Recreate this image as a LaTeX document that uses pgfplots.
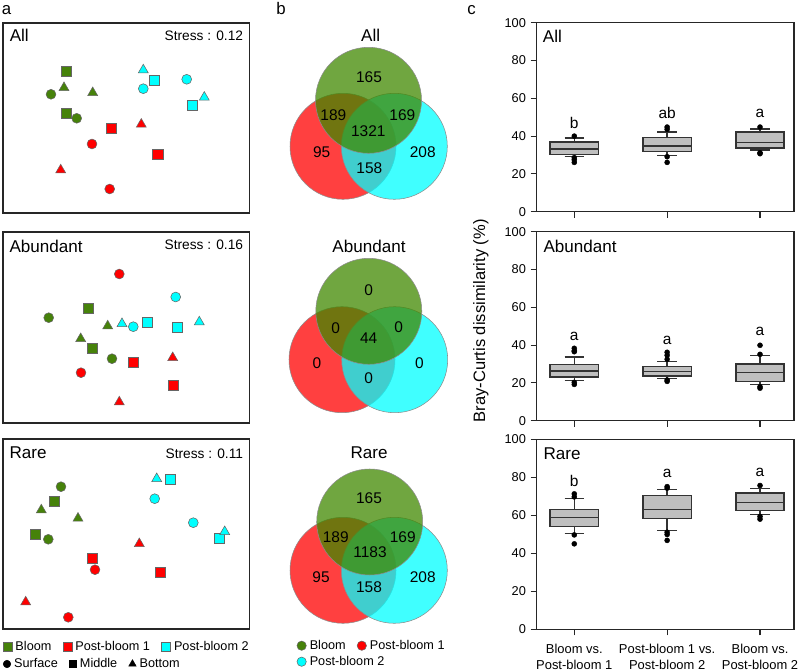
\documentclass[border=0pt]{standalone}
\usepackage{fontspec}
\setmainfont{Liberation Sans}
\usepackage{pgfplots}
\pgfplotsset{compat=1.18}
\usepgfplotslibrary{statistics}

\definecolor{bgreen}{RGB}{70,130,10}
\definecolor{vgreen}{RGB}{64,136,0}
\definecolor{bred}{RGB}{255,0,0}
\definecolor{bcyan}{RGB}{0,255,255}

\newcommand\fP{\fontsize{12.6}{14}\selectfont}
\newcommand\fA{\fontsize{12.8}{14}\selectfont}
\newcommand\fN{\fontsize{11.6}{13}\selectfont}
\newcommand\fS{\fontsize{10.3}{12}\selectfont}
\newcommand\fT{\fontsize{9.6}{11}\selectfont}
\newcommand\fL{\fontsize{9.5}{11}\selectfont}
\newcommand\fX{\fontsize{9.7}{11.8}\selectfont}
\newcommand\fY{\fontsize{12.4}{14}\selectfont}

\tikzset{
  pt/.style={mark size=#1, draw=black!60, line width=0.4pt},
  ttl/.style={anchor=base west, inner sep=0pt, font=\fA},
  lettr/.style={font=\fN},
}

\pgfplotsset{
  canvas/.style={at={(0pt,0pt)}, anchor=south west, scale only axis,
    width=600pt, height=502.5pt, xmin=0, xmax=800, ymin=0, ymax=670,
    y dir=reverse, hide axis, clip=false},
  nmds/.style={scale only axis, width=184.875pt, xmin=3, xmax=249.5,
    y dir=reverse, anchor=south west, xtick=\empty, ytick=\empty,
    axis line style={line width=0.8pt, black!85}, clip=false},
  nmdsplot/.style={only marks, scatter, scatter src=explicit symbolic,
    scatter/classes={
      GC={mark=*, pt=3.7pt, fill=bgreen},
      GS={mark=square*, pt=3.8pt, fill=bgreen},
      GT={mark=triangle*, pt=4.3pt, fill=bgreen},
      RC={mark=*, pt=3.7pt, fill=bred},
      RS={mark=square*, pt=3.8pt, fill=bred},
      RT={mark=triangle*, pt=4.3pt, fill=bred},
      CC={mark=*, pt=3.7pt, fill=bcyan},
      CS={mark=square*, pt=3.8pt, fill=bcyan},
      CT={mark=triangle*, pt=4.3pt, fill=bcyan}}},
  boxax/.style={scale only axis, anchor=south west, width=193pt,
    xmin=0.595, xmax=3.366, ymin=0, ymax=100, ytick={0,20,...,100},
    xtick={1,2,3}, tick align=outside, xtick pos=left, ytick pos=left,
    major tick length=4.5pt,
    axis line style={line width=0.9pt, black!85},
    every tick/.style={line width=0.8pt, black!85},
    yticklabel style={font=\fT},
    /pgf/number format/assume math mode=true, clip=false},
  bx/.style={draw=black!80, fill=black!25, line width=1pt, mark=*,
    mark size=1.9pt, mark options={fill=black, draw=black, line width=0.3pt},
    boxplot/draw direction=y,
    boxplot/box extend=0.52, boxplot/whisker extend=0.21},
  legax/.style={canvas, legend cell align=left,
    legend image code/.code={\draw[##1] plot coordinates {(0pt,0pt)};}},
  legst/.style={legend style={at={#1}, anchor=west, draw=none, fill=none,
    inner sep=0pt, font=\fL, nodes={inner sep=0.6pt},
    /tikz/every odd column/.style={column sep=2pt},
    /tikz/every even column/.style={column sep=8pt}}},
}

\begin{document}
\begin{tikzpicture}
\path[use as bounding box] (0pt,0pt) rectangle (600pt,502.5pt);

% ---------- a: NMDS ----------
\begin{axis}[nmds, at={(2.25pt,342.75pt)}, height=142.5pt, ymin=23, ymax=213]
\addplot[nmdsplot] table[meta=c] {
x y c
66.7 71 GS
64 87.7 GT
51 94.3 GC
92.7 92.7 GT
66.7 113.3 GS
76.7 118.3 GC
143.3 70 CT
154.3 80.7 CS
143.3 88.7 CC
186.7 79.3 CC
204.3 97.3 CT
192.3 105 CS
141.3 124.3 RT
111.3 128.3 RS
92 144 RC
157.7 154 RS
60.7 170 RT
109.7 189 RC
};
\node[ttl] at (axis cs:9.5,41.7) {All};
\node[anchor=base east, inner sep=0pt, font=\fS] at (axis cs:243.3,40.7) {Stress : 0.12};
\end{axis}

\begin{axis}[nmds, at={(2.25pt,185.25pt)}, height=143.25pt, ymin=232, ymax=423]
\addplot[nmdsplot] table[meta=c] {
x y c
119.3 274 RC
175.7 297 CC
88.3 308 GS
48.7 317.7 GC
107.7 326 GT
122 323.7 CT
133.3 326.7 CC
147.3 322.3 CS
177 327 CS
199.3 322 CT
80.7 338.7 GT
92.3 348.7 GS
112 358.7 GC
133.3 362.3 RS
172.7 357.7 RT
81 372.7 RC
173 385.7 RS
119.3 402 RT
};
\node[ttl] at (axis cs:9.3,252.7) {Abundant};
\node[anchor=base east, inner sep=0pt, font=\fS] at (axis cs:243.3,250) {Stress : 0.16};
\end{axis}

\begin{axis}[nmds, at={(2.25pt,30.75pt)}, height=142.5pt, ymin=439, ymax=629]
\addplot[nmdsplot] table[meta=c] {
x y c
156.7 478.7 CT
170 479.7 CS
61 486.7 GC
154.7 498.7 CC
54.7 501 GS
41.3 510 GT
78 518.3 GT
193.3 522.7 CC
219.3 538.3 CS
224.7 531.7 CT
35 534 GS
48.3 539.3 GC
139.3 543.7 RT
92.3 558 RS
95 569.7 RC
160 572.3 RS
25.7 602 RT
68.3 617.3 RC
};
\node[ttl] at (axis cs:9.3,459) {Rare};
\node[anchor=base east, inner sep=0pt, font=\fS] at (axis cs:243.3,459) {Stress : 0.11};
\end{axis}

% legends of a
\begin{axis}[legax, legend columns=3, legst={(0.003375,0.03478)}]
\addlegendimage{mark=square*, mark size=3.4pt, mark options={fill=bgreen, draw=black!60, line width=0.4pt}}
\addlegendentry{Bloom}
\addlegendimage{mark=square*, mark size=3.4pt, mark options={fill=bred, draw=black!60, line width=0.4pt}}
\addlegendentry{Post-bloom 1\hspace{11pt}}
\addlegendimage{mark=square*, mark size=3.4pt, mark options={fill=bcyan, draw=black!60, line width=0.4pt}}
\addlegendentry{Post-bloom 2}
\end{axis}

\begin{axis}[legax, legend columns=3, legst={(0.00375,0.00896)},
  legend style={/tikz/column 2/.style={column sep=14pt},
    /tikz/column 4/.style={column sep=7pt}}]
\addlegendimage{mark=*, mark size=2.8pt, mark options={fill=black, draw=black}}
\addlegendentry{Surface}
\addlegendimage{mark=square*, mark size=2.7pt, mark options={fill=black, draw=black}}
\addlegendentry{Middle}
\addlegendimage{mark=triangle*, mark size=3.2pt, mark options={fill=black, draw=black}}
\addlegendentry{Bottom}
\end{axis}

% ---------- b: Venn ----------
\begin{axis}[canvas]
\addplot[only marks, mark=*, mark size=39.75pt,
  mark options={fill=bred, fill opacity=0.75, draw=black!45, line width=0.4pt}]
  coordinates {(343,146.3) (342,359.7) (343,570.3)};
\addplot[only marks, mark=*, mark size=39.75pt,
  mark options={fill=bcyan, fill opacity=0.75, draw=black!45, line width=0.4pt}]
  coordinates {(394.3,146.3) (394.7,359.7) (394.3,570.3)};
\addplot[only marks, mark=*, mark size=39.75pt,
  mark options={fill=vgreen, fill opacity=0.75, draw=black!45, line width=0.4pt}]
  coordinates {(368.5,100.3) (368.8,311.3) (369.7,522)};
\end{axis}

\begin{axis}[canvas]
\node[anchor=base, inner sep=0pt, font=\fA] at (axis cs:370.7,41.7) {All};
\node[anchor=base, inner sep=0pt, font=\fA] at (axis cs:369,252.3) {Abundant};
\node[anchor=base, inner sep=0pt, font=\fA] at (axis cs:369,458.3) {Rare};

\begin{scope}[every node/.style={font=\fN}]
\node at (axis cs:369,77.3) {165};
\node at (axis cs:333.3,115) {189};
\node at (axis cs:402.3,115) {169};
\node at (axis cs:368.3,131) {1321};
\node at (axis cs:321.7,152.3) {95};
\node at (axis cs:422.7,152.3) {208};
\node at (axis cs:369.3,168.3) {158};

\node at (axis cs:368.7,290) {0};
\node at (axis cs:335.7,328.3) {0};
\node at (axis cs:398.7,327.3) {0};
\node at (axis cs:368.7,338.3) {44};
\node at (axis cs:317,363.3) {0};
\node at (axis cs:419.3,363.3) {0};
\node at (axis cs:368.7,378.3) {0};

\node at (axis cs:369,498.3) {165};
\node at (axis cs:335.7,536.7) {189};
\node at (axis cs:402.7,536.7) {169};
\node at (axis cs:370,552.3) {1183};
\node at (axis cs:321,576.7) {95};
\node at (axis cs:422.7,576.7) {208};
\node at (axis cs:369,586.7) {158};
\end{scope}

\node[anchor=base west, inner sep=0pt, font=\fP] at (axis cs:1.7,15) {a};
\node[anchor=base west, inner sep=0pt, font=\fP] at (axis cs:276,15) {b};
\node[anchor=base west, inner sep=0pt, font=\fP] at (axis cs:467,15) {c};
\end{axis}

% legends of b
\begin{axis}[legax, legend columns=2, legst={(0.37088,0.03627)}]
\addlegendimage{mark=*, mark size=3.5pt, mark options={fill=bgreen, draw=black!60, line width=0.4pt}}
\addlegendentry{Bloom}
\addlegendimage{mark=*, mark size=3.5pt, mark options={fill=bred, draw=black!60, line width=0.4pt}}
\addlegendentry{Post-bloom 1}
\end{axis}

\begin{axis}[legax, legend columns=1, legst={(0.37088,0.01239)}]
\addlegendimage{mark=*, mark size=3.5pt, mark options={fill=bcyan, draw=black!60, line width=0.4pt}}
\addlegendentry{Post-bloom 2}
\end{axis}

% ---------- c: box plots ----------
\begin{axis}[boxax, at={(402.5pt,343.7pt)}, height=141.75pt, xticklabels={}]
\addplot[bx, boxplot prepared={draw position=1, median=33.2, upper quartile=36.9,
  lower quartile=30.3, upper whisker=39, lower whisker=29.3}]
  coordinates {(1,40) (1,28.6) (1,27.5) (1,26.1)};
\addplot[bx, boxplot prepared={draw position=2, median=34.7, upper quartile=39.3,
  lower quartile=31.7, upper whisker=42.2, lower whisker=29.6}]
  coordinates {(2,43.6) (2,44.8) (2,29.1) (2,26.1)};
\addplot[bx, boxplot prepared={draw position=3, median=36.5, upper quartile=42.2,
  lower quartile=33.7, upper whisker=43.7, lower whisker=32.6}]
  coordinates {(3,44.8) (3,31.2) (3,30.7)};
\node[lettr] at (axis cs:1,47.1) {b};
\node[lettr] at (axis cs:2,52) {ab};
\node[lettr] at (axis cs:3,52) {a};
\node[ttl] at (rel axis cs:0.0233,0.896) {All};
\end{axis}

\begin{axis}[boxax, at={(402.5pt,186.98pt)}, height=141.75pt, xticklabels={},
  ylabel={Bray-Curtis dissimilarity (\%)},
  ylabel style={at={(axis description cs:-0.2165,0.5286)}, anchor=center, font=\fY}]
\addplot[bx, boxplot prepared={draw position=1, median=26.3, upper quartile=29.8,
  lower quartile=23.1, upper whisker=33.7, lower whisker=21.3}]
  coordinates {(1,38.3) (1,37) (1,36.5) (1,20.3) (1,19.2)};
\addplot[bx, boxplot prepared={draw position=2, median=25.9, upper quartile=28.6,
  lower quartile=23.6, upper whisker=31.2, lower whisker=22.4}]
  coordinates {(2,36.2) (2,34.6) (2,32.5) (2,21.5) (2,20.8)};
\addplot[bx, boxplot prepared={draw position=3, median=25.4, upper quartile=30,
  lower quartile=20.8, upper whisker=34.4, lower whisker=19.2}]
  coordinates {(3,39.9) (3,35.1) (3,18) (3,17.2)};
\node[lettr] at (axis cs:1,44.8) {a};
\node[lettr] at (axis cs:2,42.7) {a};
\node[lettr] at (axis cs:3,47) {a};
\node[ttl] at (rel axis cs:0.0257,0.889) {Abundant};
\end{axis}

\begin{axis}[boxax, at={(402.5pt,30.5pt)}, height=142.5pt,
  xticklabels={{Bloom vs.\\Post-bloom 1},{Post-bloom 1 vs.\\Post-bloom 2},{Bloom vs.\\Post-bloom 2}},
  xticklabel style={align=center, font=\fX, yshift=-3pt}]
\addplot[bx, boxplot prepared={draw position=1, median=59, upper quartile=63.2,
  lower quartile=54.1, upper whisker=68.7, lower whisker=50.6}]
  coordinates {(1,71.3) (1,69.7) (1,49.7) (1,45)};
\addplot[bx, boxplot prepared={draw position=2, median=62.9, upper quartile=70.6,
  lower quartile=58.5, upper whisker=73.6, lower whisker=52}]
  coordinates {(2,75.1) (2,74.3) (2,51.1) (2,49.9) (2,46.8)};
\addplot[bx, boxplot prepared={draw position=3, median=66.9, upper quartile=71.8,
  lower quartile=62.5, upper whisker=74.1, lower whisker=60.6}]
  coordinates {(3,75.7) (3,59.4) (3,58)};
\node[lettr] at (axis cs:1,78.3) {b};
\node[lettr] at (axis cs:2,82.3) {a};
\node[lettr] at (axis cs:3,82.8) {a};
\node[ttl] at (rel axis cs:0.0257,0.896) {Rare};
\end{axis}
\end{tikzpicture}
\end{document}
